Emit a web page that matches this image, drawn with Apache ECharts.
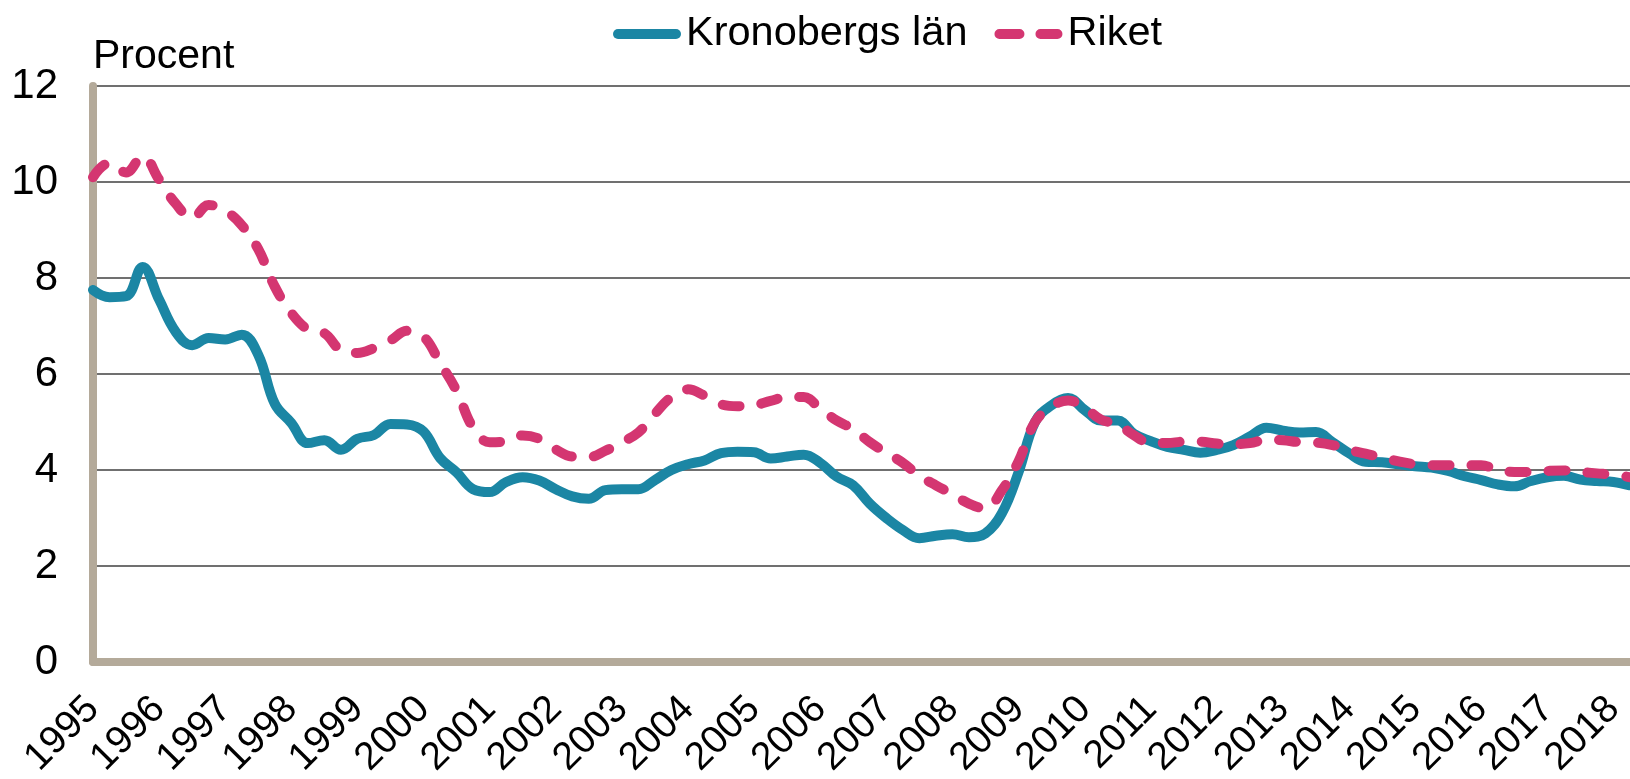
<!DOCTYPE html>
<html lang="sv">
<head>
    <meta charset="UTF-8">
    <title>Arbetslöshet Kronobergs län och riket</title>
    <style>
        * { margin: 0; padding: 0; }
        html, body { width: 100%; height: 100%; background: #fff; }
        #chart { width: 1630px; height: 779px; }
    </style>
</head>
<body>
<div id="chart"></div>
<script src="https://cdn.jsdelivr.net/npm/echarts@6/dist/echarts.min.js"></script>
<script>
    // årtal på x-axeln
    var years = [1995, 1996, 1997, 1998, 1999, 2000, 2001, 2002, 2003, 2004, 2005, 2006,
        2007, 2008, 2009, 2010, 2011, 2012, 2013, 2014, 2015, 2016, 2017, 2018];

    // kvartal, 1995 K1 .. 2018 K2
    var quarters = [];
    years.forEach(function (y) {
        ['K1', 'K2', 'K3', 'K4'].forEach(function (q) { quarters.push(y + ' ' + q); });
    });
    quarters = quarters.slice(0, 94);

    var kronoberg = [
        7.75, 7.6, 7.62, 8.23,
        7.55, 6.88, 6.6, 6.75,
        6.72, 6.82, 6.4, 5.38,
        4.98, 4.56, 4.62, 4.42,
        4.65, 4.73, 4.96, 4.95,
        4.8, 4.25, 3.95, 3.6,
        3.54, 3.75, 3.85, 3.78,
        3.6, 3.45, 3.4, 3.58,
        3.6, 3.6, 3.79, 4.0,
        4.12, 4.2, 4.35, 4.38,
        4.37, 4.24, 4.28, 4.32,
        4.15, 3.86, 3.68, 3.3,
        3.0, 2.75, 2.58, 2.63,
        2.66, 2.6, 2.68, 3.1,
        3.95, 5.0, 5.35, 5.5,
        5.25, 5.03, 5.03, 4.75,
        4.6, 4.48, 4.42, 4.36,
        4.42, 4.52, 4.7, 4.88,
        4.82, 4.78, 4.79, 4.58,
        4.35, 4.17, 4.16, 4.12,
        4.08, 4.05, 3.98, 3.87,
        3.79, 3.7, 3.66, 3.77,
        3.85, 3.88, 3.8, 3.77,
        3.75, 3.68
    ];

    var riket = [
        10.1, 10.4, 10.2, 10.54,
        10.05, 9.55, 9.25, 9.52,
        9.4, 9.1, 8.6, 7.82,
        7.27, 6.93, 6.85, 6.5,
        6.44, 6.54, 6.7, 6.9,
        6.78, 6.23, 5.65, 4.88,
        4.58, 4.6, 4.72, 4.65,
        4.43, 4.28, 4.27, 4.4,
        4.58, 4.78, 5.17, 5.52,
        5.68, 5.55, 5.37, 5.33,
        5.35, 5.44, 5.52, 5.52,
        5.28, 5.03, 4.85, 4.58,
        4.36, 4.15, 3.88, 3.68,
        3.5, 3.3, 3.2, 3.58,
        4.18, 5.0, 5.32, 5.45,
        5.3, 5.05, 4.95, 4.72,
        4.56, 4.56, 4.59, 4.59,
        4.55, 4.54, 4.56, 4.63,
        4.62, 4.58, 4.57, 4.52,
        4.42, 4.34, 4.26, 4.18,
        4.12, 4.1, 4.1, 4.1,
        4.1, 4.0, 3.96, 3.96,
        3.98, 3.99, 3.96, 3.93,
        3.9, 3.85
    ];

    var axisColor = '#b4aa9a';
    var font = '"Liberation Sans", Arial, sans-serif';

    // legendikoner: hel linje och två streck med runda ändar
    var iconSolid = 'path://M5,0 H63 A5,5 0 0 1 63,10 H5 A5,5 0 0 1 5,0 Z';
    var iconDashed = 'path://M5,0 H25 A5,5 0 0 1 25,10 H5 A5,5 0 0 1 5,0 Z ' +
        'M46,0 H63 A5,5 0 0 1 63,10 H46 A5,5 0 0 1 46,0 Z';

    var myChart = echarts.init(document.getElementById('chart'));
    var option = {
        backgroundColor: '#fff',
        animation: false,
        textStyle: { fontFamily: font, color: '#000' },
        legend: {
            left: 608,
            top: 8,
            itemWidth: 68,
            itemHeight: 10,
            itemGap: 27,
            textStyle: { fontSize: 41.5, color: '#000', fontFamily: font },
            data: [
                { name: 'Kronobergs län', icon: iconSolid },
                { name: 'Riket', icon: iconDashed }
            ]
        },
        grid: {
            left: 93,
            right: 0,
            top: 86,
            bottom: 117,
            containLabel: false,
            outerBoundsMode: 'none'
        },
        xAxis: {
            type: 'category',
            boundaryGap: false,
            data: quarters,
            axisLine: { show: true, lineStyle: { color: axisColor, width: 8 } },
            axisTick: { show: false },
            splitLine: { show: false },
            axisLabel: {
                rotate: 45,
                margin: 41,
                fontSize: 39,
                color: '#000',
                fontFamily: font,
                padding: [16, 0, 0, 0],
                // bara första kvartalet får en etikett
                interval: function (index) { return index % 4 === 0; },
                formatter: function (v) { return v.slice(0, 4); }
            }
        },
        yAxis: {
            type: 'value',
            min: 0,
            max: 12,
            interval: 2,
            name: 'Procent',
            nameLocation: 'end',
            nameGap: 29,
            nameTextStyle: {
                fontSize: 41,
                color: '#000',
                fontFamily: font,
                align: 'left',
                verticalAlign: 'middle'
            },
            axisLine: { show: true, lineStyle: { color: axisColor, width: 8 } },
            axisTick: { show: false },
            axisLabel: { fontSize: 42, color: '#000', margin: 35, fontFamily: font },
            splitLine: { lineStyle: { color: '#404040', width: 1.5 } }
        },
        series: [
            {
                name: 'Kronobergs län',
                type: 'line',
                data: kronoberg,
                smooth: 0.4,
                symbol: 'none',
                itemStyle: { color: '#1b86a4' },
                lineStyle: { color: '#1b86a4', width: 10, cap: 'round', join: 'round' },
                z: 3
            },
            {
                name: 'Riket',
                type: 'line',
                data: riket,
                smooth: 0.4,
                symbol: 'none',
                itemStyle: { color: '#d43671' },
                lineStyle: { color: '#d43671', width: 10, type: [17, 22], cap: 'round', join: 'round' },
                z: 4
            }
        ]
    };
    myChart.setOption(option);
</script>
</body>
</html>
